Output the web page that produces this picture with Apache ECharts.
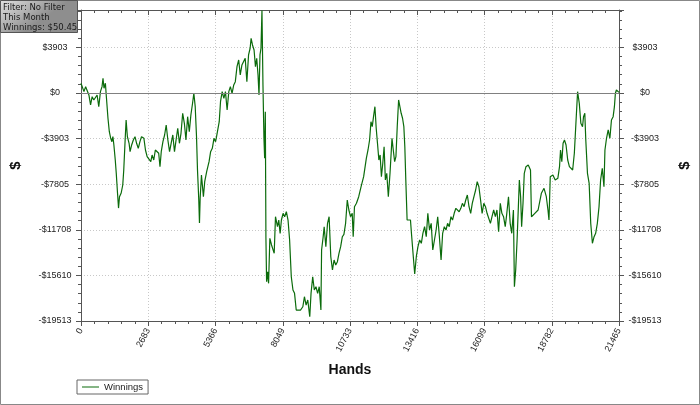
<!DOCTYPE html>
<html>
<head>
<meta charset="utf-8">
<script src="https://cdn.jsdelivr.net/npm/echarts@6/dist/echarts.min.js"></script>
<style>html,body{margin:0;padding:0;background:#fff}#c{width:700px;height:405px}</style>
</head>
<body>
<div id="c"></div>
<script>
// ---- data ----
const seriesName = 'Winnings';
const xTickLabels = [0, 2683, 5366, 8049, 10733, 13416, 16099, 18782, 21465];
const yTickLabels = [3903, 0, -3903, -7805, -11708, -15610, -19513];
const infoLines = ['Filter: No Filter', 'This Month', 'Winnings: $50.45'];
const hands = [
0,51,118,185,248,315,382,445,512,579,642,709,776,839,878,918,973,1012,1075,1130,1182,1233,1272,1312,1367,1406,1457,1497,1536,1603,1666,1706,1761,1800,1851,1918,1958,2021,2088,2155,2218,2285,2352,2415,2509,2572,2639,2718,2785,2836,2903,2966,3033,3100,3151,3202,3269,3336,3399,3466,3533,3596,3663,3730,3793,3860,3927,3990,4057,4124,4187,4254,4321,4384,4451,4502,4557,4609,4648,4699,4727,4754,4806,4884,4936,5014,5109,5172,5239,5306,5369,5408,5464,5515,5566,5633,5700,5763,5830,5897,5960,6027,6094,6157,6224,6291,6354,6421,6488,6551,6618,6685,6748,6787,6842,6905,6960,7011,7063,7102,7141,7181,7220,7260,7299,7327,7354,7378,7405,7445,7484,7535,7602,7708,7760,7839,7890,7945,7996,8063,8126,8193,8260,8323,8390,8457,8520,8587,8654,8757,8851,8914,8981,9048,9127,9178,9245,9308,9375,9442,9505,9572,9599,9662,9702,9769,9836,9899,9966,10033,10096,10163,10230,10293,10360,10427,10490,10557,10624,10687,10754,10821,10860,10911,10990,11080,11175,11277,11384,11451,11514,11569,11620,11671,11727,11778,11829,11884,11935,11986,12041,12093,12144,12199,12262,12329,12408,12459,12514,12565,12617,12672,12723,12774,12829,12881,12920,12959,13011,13090,13145,13184,13247,13314,13381,13444,13511,13578,13641,13708,13775,13838,13905,13972,14035,14102,14169,14232,14299,14366,14429,14496,14563,14626,14693,14760,14823,14890,14957,15020,15087,15154,15217,15284,15351,15414,15481,15548,15611,15678,15745,15808,15875,15942,16004,16071,16138,16201,16268,16335,16398,16465,16532,16595,16662,16729,16792,16859,16926,16989,17056,17123,17186,17253,17292,17343,17399,17450,17489,17540,17580,17635,17686,17753,17844,17934,17973,18107,18237,18367,18474,18565,18631,18671,18722,18828,18919,19025,19092,19132,19183,19234,19289,19352,19419,19486,19549,19616,19683,19746,19813,19880,19943,20010,20050,20101,20140,20207,20274,20337,20404,20471,20534,20601,20668,20731,20798,20865,20904,20967,21034,21101,21164,21231,21282,21321,21361,21416,21465
];
const winnings = [
830,685,111,539,428,-171,-1027,-317,-599,-745,-171,-1173,111,539,1258,402,830,-317,-2140,-3313,-3852,-4169,-3741,-4451,-5735,-6848,-8560,-9850,-8877,-8560,-7875,-6591,-4023,-2311,-3741,-4306,-5025,-4451,-4023,-3741,-4306,-4734,-4169,-3741,-3878,-4879,-5453,-5590,-5881,-5307,-5735,-4879,-4734,-5162,-6309,-5025,-4169,-3595,-2739,-4023,-5025,-4306,-3595,-5025,-4023,-3022,-4306,-3450,-1738,-2594,-4023,-2029,-3313,-1883,-882,-26,-1173,-3741,-6591,-9159,-11128,-9014,-7019,-8877,-7593,-6737,-5881,-5025,-4734,-3878,-4169,-3741,-3878,-2457,-745,111,-454,111,-1455,111,539,-26,685,967,2251,2825,1541,2397,2251,2970,967,3253,3826,4682,4109,3681,2251,2970,1541,-171,3253,3826,7050,685,-3878,-5590,-1601,-12412,-16153,-15297,-16290,-12438,-13011,-13722,-10589,-11445,-10871,-12010,-10871,-10298,-10589,-10161,-10871,-12583,-15725,-16863,-17146,-18575,-18430,-18575,-18293,-17437,-18147,-17719,-19149,-17146,-15725,-16863,-16581,-17146,-16581,-18575,-13439,-12301,-11445,-13157,-11154,-10589,-14013,-15151,-14295,-14723,-14441,-13722,-13157,-12301,-12100,-11154,-9159,-10015,-10589,-10298,-12301,-9733,-9442,-8877,-8021,-7165,-5590,-4879,-4023,-2457,-2885,-2029,-1173,-3022,-4306,-5735,-5307,-7165,-6018,-4597,-7447,-6874,-8877,-6874,-3878,-4879,-5881,-5453,-2885,-599,-454,-1738,-2166,-2885,-4597,-7447,-10871,-11017,-10871,-12010,-13722,-15494,-13953,-13157,-12583,-12866,-12010,-11445,-12301,-10298,-11727,-11154,-13439,-12583,-11727,-10589,-12301,-14295,-12010,-11445,-11727,-11154,-11445,-10589,-10871,-10298,-9870,-9733,-10161,-9870,-9442,-9733,-9159,-8731,-9733,-10298,-9442,-8877,-8303,-7593,-8021,-9159,-10298,-9442,-9733,-10298,-10161,-11154,-10589,-10015,-10589,-10015,-11873,-9442,-10298,-10589,-11445,-10298,-8877,-11154,-12010,-10015,-16581,-15151,-12583,-9733,-7447,-8877,-11445,-9442,-6874,-6309,-6163,-6591,-10589,-10298,-10015,-8586,-8158,-8877,-10015,-10871,-7165,-7019,-7447,-7302,-6309,-4879,-5881,-4306,-4023,-4451,-5735,-6309,-6446,-6591,-5162,-2594,111,-882,-2594,-2885,-2029,-1738,-4023,-6874,-7730,-11154,-12866,-12301,-12010,-11154,-9733,-7447,-6446,-8021,-4879,-3878,-3167,-3878,-2311,-2029,-1173,-26,257,150,50
];
// axis scale settings
const xMin = 0, xMax = 21465, xStep = 2683.125;
const yMin = -19513, yMax = 7100, yStep = 3902.6;

const data = hands.map((h, i) => [h, winnings[i]]);
const fmtMoney = v => { const r = Math.round(v); return (r < 0 ? '-$' : '$') + Math.abs(r); };
const nearTick = (v, step, base) => Math.abs(((v - base) / step) - Math.round((v - base) / step)) < 1e-6;

const chart = echarts.init(document.getElementById('c'), null, {renderer: 'canvas'});
const axisCol = '#555';
const lineCol = '#0b6b0b';
const lblStyle = {color: '#222', fontSize: 9, fontFamily: 'Liberation Sans, Arial, sans-serif'};
const yCommon = {
  type: 'value', min: yMin, max: yMax, interval: yStep,
  axisLine: {show: true, onZero: false, lineStyle: {color: axisCol}},
  axisTick: {show: true, length: 5, lineStyle: {color: axisCol}},
  minorTick: {show: true, splitNumber: 5, length: 3, lineStyle: {color: axisCol}},
  axisLabel: Object.assign({align: 'center', margin: 26, showMaxLabel: false,
    formatter: v => nearTick(v, yStep, yMin) ? fmtMoney(v) : ''}, lblStyle),
  name: '$', nameLocation: 'middle', nameGap: 58, nameRotate: 90,
  nameTextStyle: {fontSize: 15, fontWeight: 'bold', color: '#111', fontFamily: 'Liberation Sans, Arial, sans-serif'}
};
chart.setOption({
  animation: false,
  backgroundColor: '#fff',
  grid: {left: 77, right: 77, top: 10, bottom: 84, show: false},
  legend: {
    show: true, data: [{name: seriesName, icon: 'rect'}], left: 77, top: 380, orient: 'horizontal',
    borderColor: '#666', borderWidth: 1, padding: [2, 5, 2, 5], itemWidth: 17, itemHeight: 1, itemGap: 4,
    itemStyle: {color: lineCol},
    textStyle: {fontSize: 9.5, color: '#222', fontFamily: 'Liberation Sans, Arial, sans-serif'}
  },
  xAxis: [{
    type: 'value', min: xMin, max: xMax, interval: xStep, position: 'bottom',
    axisLine: {show: true, onZero: false, lineStyle: {color: axisCol}},
    axisTick: {show: true, length: 5, lineStyle: {color: axisCol}},
    minorTick: {show: true, splitNumber: 5, length: 3, lineStyle: {color: axisCol}},
    axisLabel: Object.assign({rotate: 62, margin: 8, formatter: v => String(Math.round(v))}, lblStyle),
    splitLine: {show: true, lineStyle: {color: '#c8c8c8', type: [1, 2]}},
    name: 'Hands', nameLocation: 'middle', nameGap: 42,
    nameTextStyle: {fontSize: 14, fontWeight: 'bold', color: '#111', fontFamily: 'Liberation Sans, Arial, sans-serif'}
  }, {
    type: 'value', min: xMin, max: xMax, interval: xStep, position: 'top',
    axisLine: {show: true, onZero: false, lineStyle: {color: axisCol}},
    axisTick: {show: true, inside: true, length: 5, lineStyle: {color: axisCol}},
    minorTick: {show: true, splitNumber: 5, length: 3, lineStyle: {color: axisCol}},
    axisLabel: {show: false}, splitLine: {show: false}
  }],
  yAxis: [
    Object.assign({}, yCommon, {position: 'left',
      splitLine: {show: true, lineStyle: {color: '#c8c8c8', type: [1, 2]}}}),
    Object.assign({}, yCommon, {position: 'right', splitLine: {show: false}})
  ],
  series: [{
    name: seriesName, type: 'line', data: data, xAxisIndex: 0, yAxisIndex: 0,
    symbol: 'none', showSymbol: false,
    lineStyle: {color: lineCol, width: 1.2},
    itemStyle: {color: lineCol},
    markLine: {silent: true, symbol: 'none', label: {show: false},
      lineStyle: {color: '#808080', type: 'solid', width: 1}, data: [{yAxis: 0}]}
  }],
  graphic: [
    {type: 'rect', z: 100, shape: {x: 0.5, y: 0.5, width: 699, height: 404},
      style: {fill: null, stroke: '#888', lineWidth: 1}},
    {type: 'rect', z: 110, shape: {x: 0.5, y: 0.5, width: 77, height: 32},
      style: {stroke: '#555', lineWidth: 1,
        fill: new echarts.graphic.LinearGradient(0, 0, 0.3, 1, [{offset: 0, color: '#e2e2e2'}, {offset: 1, color: '#8e8e8e'}])}},
    ...infoLines.map((t, i) => ({type: 'text', z: 111, x: 3, y: 3 + i * 10,
      style: {text: t, fill: '#1a1a1a', fontSize: 8.5, fontFamily: 'DejaVu Sans, Verdana, sans-serif'}}))
  ]
});
</script>
</body>
</html>
